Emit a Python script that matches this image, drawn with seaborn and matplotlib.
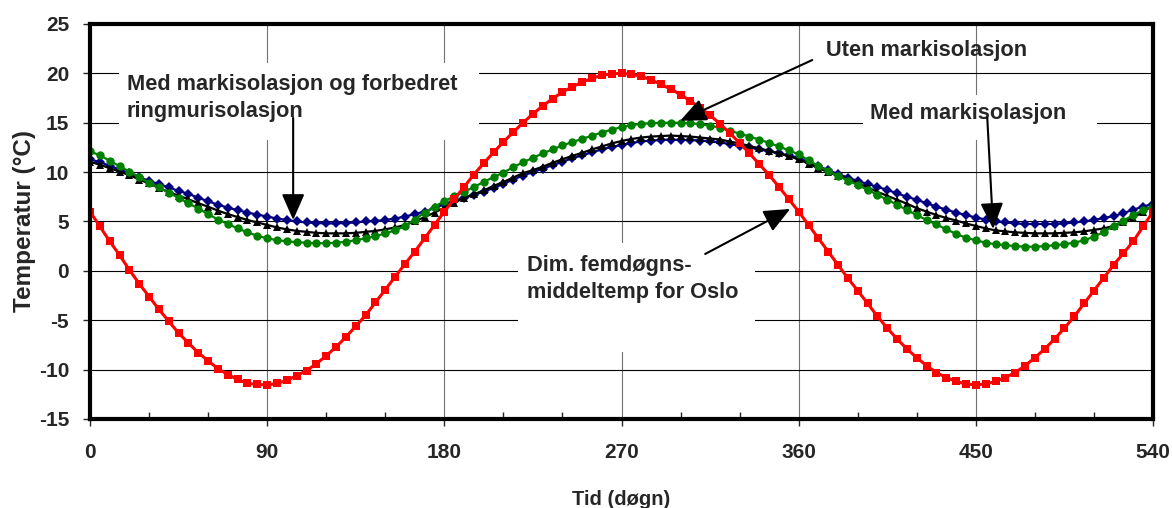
import matplotlib
matplotlib.use('Agg')
import matplotlib.pyplot as plt
import seaborn as sns
from matplotlib.patches import Rectangle
from matplotlib.ticker import MultipleLocator

# x-axis: time in days, one point every 5 days
days = list(range(0, 541, 5))

# Dim. femdoegns-middeltemp for Oslo (red squares)
dim_oslo = [6.0, 4.5, 3.0, 1.6, 0.1, -1.3, -2.6, -3.9, -5.1, -6.3,
            -7.3, -8.3, -9.1, -9.9, -10.5, -11.0, -11.4, -11.5, -11.55, -11.4,
            -11.1, -10.6, -10.1, -9.4, -8.6, -7.7, -6.7, -5.6, -4.5, -3.2,
            -1.9, -0.6, 0.7, 1.95, 3.3, 4.65, 6.0, 7.25, 8.5, 9.75,
            10.9, 12.0, 13.05, 14.05, 15.0, 15.9, 16.7, 17.45, 18.1, 18.65,
            19.1, 19.5, 19.8, 19.95, 20.0, 19.9, 19.7, 19.35, 18.9, 18.4,
            17.85, 17.2, 16.5, 15.75, 14.9, 13.95, 12.95, 11.9, 10.8, 9.7,
            8.5, 7.25, 6.0, 4.65, 3.3, 1.95, 0.6, -0.75, -2.0, -3.3,
            -4.6, -5.8, -6.9, -7.9, -8.8, -9.6, -10.3, -10.8, -11.2, -11.45,
            -11.55, -11.45, -11.2, -10.8, -10.3, -9.6, -8.8, -7.9, -6.9, -5.8,
            -4.6, -3.3, -2.0, -0.7, 0.6, 1.8, 3.0, 4.5, 6.0]

# Med markisolasjon og forbedret ringmurisolasjon (navy diamonds)
med_mark_ring = [11.3, 11.0, 10.65, 10.25, 9.9, 9.5, 9.1, 8.8, 8.45, 8.1,
                 7.8, 7.4, 7.05, 6.7, 6.4, 6.15, 5.9, 5.7, 5.5, 5.3,
                 5.15, 5.0, 4.9, 4.85, 4.8, 4.8, 4.85, 4.9, 5.0, 5.05,
                 5.15, 5.3, 5.5, 5.75, 6.0, 6.35, 6.75, 7.1, 7.4, 7.7,
                 8.0, 8.4, 8.8, 9.25, 9.65, 10.0, 10.35, 10.7, 11.05, 11.4,
                 11.7, 12.0, 12.3, 12.55, 12.75, 12.95, 13.1, 13.2, 13.25, 13.3,
                 13.25, 13.25, 13.2, 13.1, 13.0, 12.85, 12.65, 12.5, 12.3, 12.1,
                 11.9, 11.7, 11.45, 11.0, 10.6, 10.2, 9.8, 9.45, 9.1, 8.8,
                 8.5, 8.2, 7.85, 7.5, 7.2, 6.85, 6.5, 6.2, 5.9, 5.65,
                 5.4, 5.2, 5.0, 4.9, 4.8, 4.75, 4.75, 4.75, 4.75, 4.8,
                 4.9, 5.0, 5.15, 5.35, 5.55, 5.85, 6.2, 6.5, 6.8]

# Med markisolasjon (black triangles)
med_mark = [11.05, 10.75, 10.4, 10.05, 9.7, 9.25, 8.85, 8.4, 8.0, 7.6,
            7.25, 6.85, 6.5, 6.1, 5.75, 5.45, 5.15, 4.9, 4.65, 4.4,
            4.2, 4.05, 3.95, 3.85, 3.8, 3.8, 3.8, 3.85, 3.95, 4.05,
            4.2, 4.4, 4.65, 5.0, 5.45, 5.9, 6.4, 6.9, 7.4, 7.75,
            8.15, 8.6, 9.0, 9.45, 9.9, 10.2, 10.55, 10.95, 11.3, 11.65,
            11.95, 12.3, 12.6, 12.9, 13.15, 13.35, 13.5, 13.6, 13.65, 13.7,
            13.65, 13.6, 13.5, 13.4, 13.3, 13.1, 12.9, 12.65, 12.4, 12.15,
            11.9, 11.6, 11.3, 10.85, 10.4, 10.0, 9.6, 9.25, 8.9, 8.45,
            8.0, 7.6, 7.2, 6.8, 6.35, 6.0, 5.65, 5.35, 5.1, 4.8,
            4.55, 4.3, 4.1, 4.0, 3.9, 3.85, 3.8, 3.8, 3.8, 3.85,
            3.9, 4.0, 4.15, 4.3, 4.55, 4.95, 5.4, 6.0, 6.6]

# Uten markisolasjon (green circles)
uten_mark = [12.1, 11.7, 11.15, 10.6, 10.05, 9.5, 8.9, 8.45, 7.9, 7.4,
             6.85, 6.3, 5.75, 5.2, 4.75, 4.3, 3.9, 3.55, 3.3, 3.1,
             3.0, 2.9, 2.85, 2.8, 2.8, 2.85, 2.95, 3.1, 3.3, 3.5,
             3.8, 4.1, 4.55, 5.2, 5.9, 6.5, 7.05, 7.55, 8.0, 8.5,
             9.0, 9.5, 9.95, 10.5, 11.0, 11.45, 11.9, 12.3, 12.7, 13.05,
             13.35, 13.7, 14.0, 14.3, 14.55, 14.75, 14.9, 14.95, 15.0, 15.0,
             15.0, 14.95, 14.85, 14.7, 14.5, 14.2, 13.9, 13.6, 13.3, 12.95,
             12.6, 12.2, 11.8, 11.2, 10.6, 10.1, 9.6, 9.15, 8.7, 8.2,
             7.7, 7.2, 6.7, 6.15, 5.65, 5.15, 4.7, 4.2, 3.75, 3.35,
             3.1, 2.85, 2.7, 2.6, 2.5, 2.45, 2.45, 2.5, 2.6, 2.7,
             2.85, 3.1, 3.45, 3.95, 4.55, 5.1, 5.65, 6.15, 6.6]

sns.set_style('white')
plt.rcParams['font.family'] = ['Liberation Sans', 'DejaVu Sans']
plt.rcParams['font.weight'] = 'bold'
plt.rcParams['axes.unicode_minus'] = False

fig, ax = plt.subplots(figsize=(11.72, 5.08), dpi=100)
fig.subplots_adjust(left=0.0768, right=0.9838, bottom=0.1752, top=0.9528)

# series
sns.lineplot(x=days, y=med_mark_ring, ax=ax, color='#000080', marker='D',
             markersize=5, markeredgewidth=0, linewidth=1.6, zorder=2)
sns.lineplot(x=days, y=med_mark, ax=ax, color='black', marker='^',
             markersize=6, markeredgewidth=0, linewidth=1.6, zorder=2.1)
sns.lineplot(x=days, y=uten_mark, ax=ax, color='#008000', marker='o',
             markersize=6, markeredgewidth=0, linewidth=1.6, zorder=2.2)
sns.lineplot(x=days, y=dim_oslo, ax=ax, color='#FF0000', marker='s',
             markersize=5.5, markeredgewidth=0, linewidth=2.2, zorder=2.3)

ax.set_xlim(0, 540)
ax.set_ylim(-15, 25)
ax.xaxis.set_major_locator(MultipleLocator(90))
ax.xaxis.set_minor_locator(MultipleLocator(30))
ax.yaxis.set_major_locator(MultipleLocator(5))

# grid: black horizontal, grey vertical
ax.set_axisbelow(True)
ax.yaxis.grid(True, color='black', linewidth=0.8)
ax.xaxis.grid(True, color='#707070', linewidth=0.8)

for s in ax.spines.values():
    s.set_linewidth(3)
    s.set_color('black')

ax.tick_params(axis='x', which='major', direction='out', length=5, width=1,
               pad=12, labelsize=15, bottom=True)
ax.tick_params(axis='x', which='minor', direction='in', length=5, width=1,
               bottom=True)
ax.tick_params(axis='y', which='major', direction='out', length=5, width=1,
               pad=10, labelsize=15, left=True)

ax.set_xlabel('Tid (døgn)', fontsize=14.5, fontweight='bold')
ax.set_ylabel('Temperatur (°C)', fontsize=17.5, fontweight='bold')
ax.xaxis.set_label_coords(0.5, -0.18)
ax.yaxis.set_label_coords(-0.051, 0.5)

# white label boxes hiding the grid
for (x0, y0, w, h) in [(14.7, 13.25, 183.0, 7.8), (392.8, 13.25, 118.9, 4.6),
                       (217.5, -8.2, 120.4, 11.0)]:
    ax.add_patch(Rectangle((x0, y0), w, h, facecolor='white', edgecolor='none',
                           zorder=1))

txt = dict(fontsize=15.7, fontweight='bold', va='baseline', ha='left',
           linespacing=1.4, zorder=4)
ax.text(18.6, 15.58, 'Med markisolasjon og forbedret\nringmurisolasjon', **txt)
ax.text(374, 21.76, 'Uten markisolasjon', **txt)
ax.text(396.3, 15.38, 'Med markisolasjon', **txt)
ax.text(221.9, -2.75, 'Dim. femdøgns-\nmiddeltemp for Oslo', **txt)

arrow = dict(arrowstyle='-|>,head_length=0.8,head_width=0.35', mutation_scale=20,
             color='black', lw=1.5, shrinkA=0, shrinkB=0)
for tip, start in [((103.2, 5.15), (103.2, 15.5)),
                   ((299.8, 15.2), (366.9, 21.35)),
                   ((458.8, 4.24), (455.8, 15.5)),
                   ((355.7, 6.27), (312.5, 1.71))]:
    ax.annotate('', xy=tip, xytext=start, arrowprops=arrow, zorder=5)

fig.savefig('out.png', dpi=100)
